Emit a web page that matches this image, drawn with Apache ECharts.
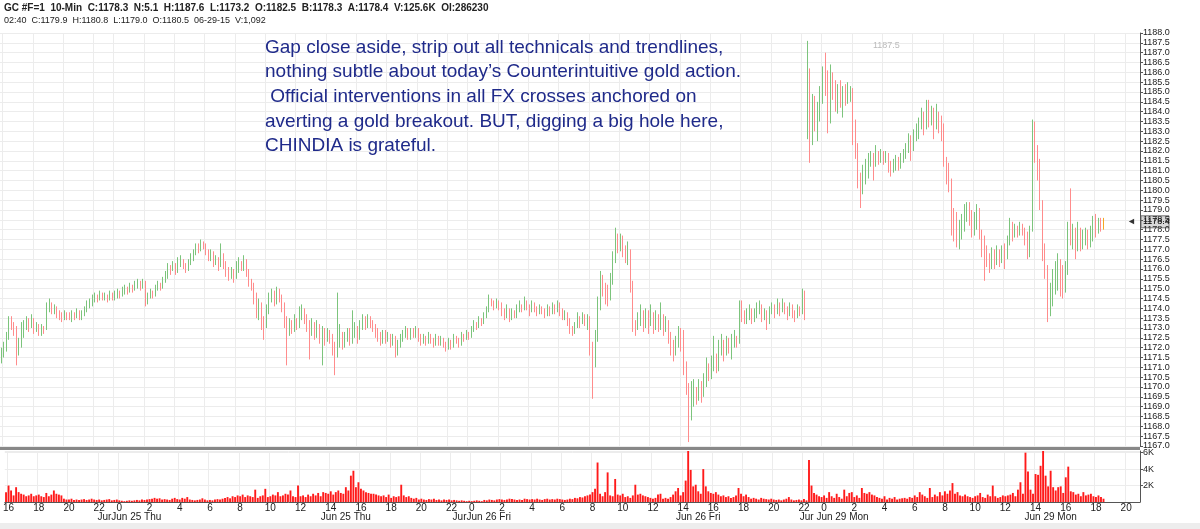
<!DOCTYPE html>
<html>
<head>
<meta charset="utf-8">
<script src="https://cdn.jsdelivr.net/npm/echarts@6/dist/echarts.min.js"></script>
<style>
html, body { margin: 0; padding: 0; background: #fff; }
#chart { width: 1200px; height: 529px; }
</style>
</head>
<body>
<div id="chart"></div>
<script>
// trading sessions: [day, first bar, last slot]  (10-min bars)
var sessions = [
    ["06-24", "15:50", "23:10"],
    ["06-25", "00:00", "23:10"],
    ["06-26", "00:00", "22:10"],
    ["06-28", "23:00", "23:50"],
    ["06-29", "00:00", "20:50"]
];

// bars as [open, close, low, high]
var jun24Bars = [
[1171.5,1171.7,1171.2,1172.0],[1171.7,1171.9,1171.5,1172.3],[1171.9,1172.5,1171.8,1172.8],[1172.5,1173.4,1172.4,1173.6],
[1173.4,1173.2,1172.9,1173.6],[1173.2,1173.0,1172.6,1173.3],[1173.0,1171.8,1171.1,1173.1],[1171.8,1172.2,1171.6,1172.5],
[1172.2,1172.6,1172.0,1173.3],[1172.6,1173.1,1172.5,1173.4],[1173.1,1173.3,1172.9,1173.6],[1173.3,1173.2,1172.8,1173.5],
[1173.2,1173.4,1173.0,1173.7],[1173.4,1173.0,1172.7,1173.5],[1173.0,1173.1,1172.8,1173.3],[1173.1,1172.8,1172.6,1173.2],
[1172.8,1173.0,1172.6,1173.2],[1173.0,1172.9,1172.7,1173.1],[1172.9,1174.0,1172.9,1174.3],[1174.0,1174.2,1173.8,1174.5],
[1174.2,1173.9,1173.7,1174.3],[1173.9,1174.0,1173.7,1174.2],[1174.0,1173.7,1173.5,1174.1],[1173.7,1173.6,1173.4,1173.9],
[1173.6,1173.5,1173.3,1173.8],[1173.5,1173.7,1173.4,1173.9],[1173.7,1173.6,1173.4,1173.8],[1173.6,1173.5,1173.4,1173.8],
[1173.5,1173.7,1173.3,1173.9],[1173.7,1173.6,1173.4,1173.8],[1173.6,1173.8,1173.5,1174.0],[1173.8,1173.6,1173.4,1173.9],
[1173.6,1173.7,1173.4,1173.9],[1173.7,1173.9,1173.6,1174.1],[1173.9,1174.2,1173.8,1174.4],[1174.2,1174.3,1174.0,1174.5],
[1174.3,1174.5,1174.1,1174.7],[1174.5,1174.6,1174.3,1174.8],[1174.6,1174.5,1174.3,1174.7],[1174.5,1174.7,1174.4,1174.9],
[1174.7,1174.6,1174.4,1174.8],[1174.6,1174.6,1174.4,1174.8],[1174.6,1174.5,1174.3,1174.7],[1174.5,1174.7,1174.4,1174.9],
[1174.7,1174.6,1174.4,1174.8]
];
var jun25Bars = [
[1174.6,1174.7,1174.4,1174.9],[1174.7,1174.8,1174.5,1175.0],[1174.8,1174.7,1174.5,1174.9],[1174.7,1174.9,1174.6,1175.1],
[1174.9,1175.0,1174.7,1175.2],[1175.0,1174.9,1174.7,1175.1],[1174.9,1175.1,1174.8,1175.3],[1175.1,1175.0,1174.8,1175.2],
[1175.0,1175.2,1174.9,1175.4],[1175.2,1175.3,1175.0,1175.5],[1175.3,1175.1,1174.9,1175.4],[1175.1,1175.3,1175.0,1175.5],
[1175.3,1174.4,1174.1,1175.4],[1174.4,1174.6,1174.2,1174.8],[1174.6,1174.8,1174.5,1175.0],[1174.8,1174.7,1174.5,1174.9],
[1174.7,1175.0,1174.6,1175.2],[1175.0,1175.2,1174.9,1175.4],[1175.2,1175.1,1174.9,1175.3],[1175.1,1175.4,1175.0,1175.6],
[1175.4,1175.6,1175.3,1175.9],[1175.6,1176.1,1175.5,1176.3],[1176.1,1176.0,1175.7,1176.2],[1176.0,1176.2,1175.9,1176.4],
[1176.2,1175.9,1175.7,1176.3],[1175.9,1176.3,1175.8,1176.6],[1176.3,1176.4,1176.1,1176.7],[1176.4,1176.2,1176.0,1176.5],
[1176.2,1176.0,1175.8,1176.3],[1176.0,1176.3,1175.9,1176.5],[1176.3,1176.5,1176.2,1176.8],[1176.5,1176.8,1176.4,1177.0],
[1176.8,1177.1,1176.7,1177.3],[1177.1,1177.0,1176.8,1177.3],[1177.0,1177.3,1176.9,1177.5],[1177.3,1177.2,1177.0,1177.4],
[1177.2,1176.9,1176.7,1177.3],[1176.9,1176.6,1176.4,1177.0],[1176.6,1176.8,1176.4,1177.0],[1176.8,1176.4,1176.1,1176.9],
[1176.4,1176.5,1176.2,1176.7],[1176.5,1176.2,1175.9,1176.6],[1176.2,1176.6,1176.1,1177.3],[1176.6,1176.3,1176.0,1176.8],
[1176.3,1176.0,1175.6,1176.4],[1176.0,1175.7,1175.4,1176.1],[1175.7,1175.9,1175.5,1176.1],[1175.9,1175.6,1175.3,1176.0],
[1175.6,1176.0,1175.5,1176.4],[1176.0,1176.3,1175.8,1176.6],[1176.3,1176.1,1175.9,1176.4],[1176.1,1176.4,1175.9,1176.7],
[1176.4,1175.9,1175.6,1176.5],[1175.9,1175.4,1175.1,1176.0],[1175.4,1175.2,1174.9,1175.5],[1175.2,1174.6,1174.2,1175.3],
[1174.6,1173.8,1173.5,1174.8],[1173.8,1174.2,1173.4,1174.5],[1174.2,1173.5,1172.9,1174.3],[1173.5,1173.2,1172.4,1173.6],
[1173.2,1173.9,1173.0,1174.2],[1173.9,1174.5,1173.7,1174.8],[1174.5,1174.8,1174.3,1175.0],[1174.8,1174.4,1174.1,1174.9],
[1174.4,1174.9,1174.2,1175.1],[1174.9,1174.6,1174.3,1175.0],[1174.6,1174.2,1173.8,1174.7],[1174.2,1173.5,1173.0,1174.3],
[1173.5,1173.1,1171.1,1173.6],[1173.1,1173.3,1172.6,1173.5],[1173.3,1173.0,1172.7,1173.4],[1173.0,1173.4,1172.8,1173.7],
[1173.4,1173.2,1172.9,1173.5],[1173.2,1173.6,1173.0,1174.1],[1173.6,1173.9,1173.4,1174.2],[1173.9,1173.5,1173.2,1174.0],
[1173.5,1173.3,1172.8,1173.7],[1173.3,1172.9,1171.4,1173.4],[1172.9,1173.1,1172.6,1173.5],[1173.1,1172.8,1172.4,1173.3],
[1172.8,1173.0,1172.5,1173.4],[1173.0,1172.6,1172.2,1173.2],[1172.6,1172.9,1171.1,1173.1],[1172.9,1172.5,1172.1,1173.0],
[1172.5,1172.8,1172.3,1173.0],[1172.8,1172.6,1172.2,1172.9],[1172.6,1172.2,1171.6,1172.7],[1172.2,1171.8,1170.6,1172.3],
[1171.8,1172.4,1171.5,1174.8],[1172.4,1172.6,1172.0,1173.2],[1172.6,1172.3,1171.9,1172.8],[1172.3,1172.5,1172.0,1172.8],
[1172.5,1172.8,1172.3,1173.0],[1172.8,1172.5,1172.1,1173.0],[1172.5,1172.7,1172.2,1173.9],[1172.7,1173.0,1172.5,1173.3],
[1173.0,1172.6,1172.2,1173.1],[1172.6,1173.1,1172.4,1173.4],[1173.1,1173.4,1172.9,1173.7],[1173.4,1173.2,1172.9,1173.6],
[1173.2,1173.5,1173.0,1173.7],[1173.5,1173.3,1173.0,1173.6],[1173.3,1173.1,1172.8,1173.4],[1173.1,1172.8,1172.5,1173.2],
[1172.8,1172.6,1172.3,1173.0],[1172.6,1172.4,1172.1,1172.8],[1172.4,1172.7,1172.2,1172.9],[1172.7,1172.5,1172.2,1172.9],
[1172.5,1172.6,1172.3,1172.8],[1172.6,1172.3,1172.0,1172.7],[1172.3,1172.5,1172.1,1172.7],[1172.5,1171.7,1171.5,1172.6],
[1171.7,1172.2,1171.6,1172.4],[1172.2,1172.5,1172.0,1172.7],[1172.5,1172.7,1172.3,1172.9],[1172.7,1172.9,1172.5,1173.1],
[1172.9,1172.6,1172.4,1173.0],[1172.6,1172.8,1172.4,1173.0],[1172.8,1172.7,1172.5,1173.0],[1172.7,1172.9,1172.5,1173.1],
[1172.9,1172.6,1172.3,1173.0],[1172.6,1172.4,1172.1,1172.7],[1172.4,1172.5,1172.2,1172.7],[1172.5,1172.3,1172.1,1172.6],
[1172.3,1172.6,1172.2,1172.8],[1172.6,1172.4,1172.2,1172.7],[1172.4,1172.2,1172.0,1172.5],[1172.2,1172.5,1172.1,1172.7],
[1172.5,1172.3,1172.1,1172.6],[1172.3,1172.4,1172.1,1172.6],[1172.4,1172.2,1172.0,1172.5],[1172.2,1172.0,1171.8,1172.3],
[1172.0,1172.3,1171.9,1172.5],[1172.3,1172.1,1171.9,1172.4],[1172.1,1172.5,1172.0,1172.7],[1172.5,1172.4,1172.2,1172.6],
[1172.4,1172.2,1172.0,1172.5],[1172.2,1172.6,1172.1,1172.8],[1172.6,1172.5,1172.3,1172.7],[1172.5,1172.7,1172.4,1172.9]
];
var jun26Bars = [
[1172.7,1172.6,1172.4,1172.8],[1172.6,1172.9,1172.5,1173.1],[1172.9,1173.2,1172.8,1173.4],[1173.2,1173.1,1172.9,1173.3],
[1173.1,1173.4,1173.0,1173.6],[1173.4,1173.3,1173.1,1173.5],[1173.3,1173.6,1173.2,1173.8],[1173.6,1173.9,1173.5,1174.1],
[1173.9,1174.4,1173.8,1174.7],[1174.4,1174.3,1174.1,1174.5],[1174.3,1174.1,1173.9,1174.4],[1174.1,1174.3,1174.0,1174.5],
[1174.3,1174.2,1173.9,1174.4],[1174.2,1173.9,1173.6,1174.3],[1173.9,1173.7,1173.4,1174.0],[1173.7,1173.9,1173.5,1174.2],
[1173.9,1173.6,1173.3,1174.0],[1173.6,1173.8,1173.4,1174.0],[1173.8,1173.7,1173.5,1173.9],[1173.7,1173.9,1173.5,1174.2],
[1173.9,1174.1,1173.8,1174.4],[1174.1,1174.0,1173.8,1174.2],[1174.0,1174.3,1173.9,1174.6],[1174.3,1174.1,1173.9,1174.4],
[1174.1,1173.9,1173.6,1174.2],[1173.9,1174.2,1173.8,1174.4],[1174.2,1174.0,1173.8,1174.3],[1174.0,1173.8,1173.6,1174.1],
[1173.8,1174.0,1173.7,1174.2],[1174.0,1173.9,1173.7,1174.1],[1173.9,1173.7,1173.5,1174.0],[1173.7,1174.0,1173.6,1174.2],
[1174.0,1173.8,1173.6,1174.1],[1173.8,1174.1,1173.7,1174.3],[1174.1,1173.9,1173.7,1174.2],[1173.9,1174.2,1173.8,1174.4],
[1174.2,1173.9,1173.6,1174.3],[1173.9,1173.6,1173.4,1174.0],[1173.6,1173.7,1173.4,1173.9],[1173.7,1173.4,1173.1,1173.8],
[1173.4,1173.0,1172.7,1173.5],[1173.0,1172.8,1172.6,1173.1],[1172.8,1173.1,1172.7,1173.3],[1173.1,1173.5,1173.0,1173.8],
[1173.5,1173.3,1173.0,1173.6],[1173.3,1173.6,1173.2,1173.8],[1173.6,1173.4,1173.1,1173.7],[1173.4,1173.5,1172.9,1173.7],
[1173.5,1172.0,1171.6,1173.6],[1172.0,1171.2,1169.4,1172.3],[1171.2,1172.5,1171.0,1172.9],[1172.5,1174.0,1172.3,1174.6],
[1174.0,1175.5,1173.9,1175.9],[1175.5,1175.0,1174.6,1175.7],[1175.0,1174.9,1174.2,1175.3],[1174.9,1174.6,1174.1,1175.2],
[1174.6,1175.4,1174.4,1175.8],[1175.4,1176.5,1175.2,1176.9],[1176.5,1177.3,1176.3,1178.1],[1177.3,1177.2,1176.8,1177.8],
[1177.2,1177.5,1176.9,1177.8],[1177.5,1177.0,1176.6,1177.7],[1177.0,1176.6,1176.3,1177.2],[1176.6,1176.9,1176.2,1177.4],
[1176.9,1175.3,1174.8,1177.0],[1175.3,1173.1,1172.8,1175.4],[1173.1,1173.0,1172.6,1173.4],[1173.0,1173.4,1172.9,1173.8],
[1173.4,1173.6,1173.1,1174.2],[1173.6,1173.2,1172.8,1173.9],[1173.2,1173.5,1173.0,1174.0],[1173.5,1173.3,1172.7,1173.9],
[1173.3,1173.6,1173.1,1174.2],[1173.6,1173.1,1172.7,1173.8],[1173.1,1173.4,1172.9,1173.9],[1173.4,1173.2,1172.8,1173.7],
[1173.2,1173.5,1172.9,1174.3],[1173.5,1173.0,1172.6,1173.7],[1173.0,1173.3,1172.8,1173.6],[1173.3,1172.6,1172.2,1173.4],
[1172.6,1172.2,1171.6,1172.8],[1172.2,1171.9,1171.3,1172.4],[1171.9,1172.1,1171.6,1172.6],[1172.1,1172.9,1172.0,1173.1],
[1172.9,1172.8,1171.8,1173.0],[1172.8,1171.2,1170.6,1172.9],[1171.2,1170.0,1169.6,1171.3],[1170.0,1168.7,1167.2,1170.2],
[1168.7,1169.4,1168.3,1170.3],[1169.4,1169.7,1169.0,1170.4],[1169.7,1169.6,1169.1,1170.0],[1169.6,1170.0,1169.3,1170.4],
[1170.0,1169.8,1169.2,1170.3],[1169.8,1170.2,1169.5,1170.7],[1170.2,1170.9,1170.0,1171.5],[1170.9,1170.6,1170.3,1171.2],
[1170.6,1171.1,1170.4,1171.6],[1171.1,1171.4,1170.8,1172.6],[1171.4,1170.9,1170.7,1171.7],[1170.9,1172.0,1170.8,1172.4],
[1172.0,1172.2,1171.6,1172.7],[1172.2,1171.8,1171.3,1172.4],[1171.8,1172.3,1171.6,1172.6],[1172.3,1172.0,1171.7,1172.5],
[1172.0,1172.2,1171.4,1172.7],[1172.2,1172.5,1172.0,1172.9],[1172.5,1172.3,1172.0,1172.6],[1172.3,1174.0,1172.2,1174.4],
[1174.0,1173.7,1173.3,1174.4],[1173.7,1173.5,1173.2,1173.9],[1173.5,1173.6,1173.2,1174.0],[1173.6,1173.9,1173.4,1174.2],
[1173.9,1173.5,1173.2,1174.0],[1173.5,1173.7,1173.3,1174.0],[1173.7,1173.9,1173.5,1174.3],[1173.9,1174.1,1173.7,1174.4],
[1174.1,1173.6,1173.3,1174.2],[1173.6,1173.8,1173.4,1174.0],[1173.8,1173.3,1172.9,1173.9],[1173.3,1173.9,1173.2,1174.1],
[1173.9,1174.0,1173.7,1174.3],[1174.0,1173.8,1173.5,1174.2],[1173.8,1174.1,1173.7,1174.5],[1174.1,1173.9,1173.6,1174.3],
[1173.9,1174.2,1173.8,1174.5],[1174.2,1174.0,1173.7,1174.3],[1174.0,1173.7,1173.4,1174.1],[1173.7,1174.1,1173.6,1174.3],
[1174.1,1173.8,1173.5,1174.2],[1173.8,1173.6,1173.3,1173.9],[1173.6,1174.0,1173.5,1174.2],[1174.0,1173.8,1173.6,1174.1],
[1173.8,1174.8,1173.7,1175.0],[1174.8,1173.8,1173.4,1174.9]
];
var jun29Bars = [
[1182.6,1186.0,1182.6,1187.6],[1186.0,1182.5,1181.4,1186.2],[1182.5,1184.4,1182.3,1184.9],[1184.4,1183.7,1183.0,1184.8],
[1183.7,1184.3,1182.5,1184.5],[1184.3,1184.6,1183.5,1185.3],[1184.6,1186.0,1184.4,1186.3],[1186.0,1185.1,1184.8,1187.0],
[1185.1,1183.5,1182.9,1186.1],[1183.5,1185.8,1183.4,1186.4],[1185.8,1185.1,1184.6,1186.0],[1185.1,1184.9,1184.0,1185.6],
[1184.9,1185.1,1183.9,1185.4],[1185.1,1184.7,1184.2,1185.6],[1184.7,1185.0,1183.7,1185.3],[1185.0,1184.8,1184.3,1185.4],
[1184.8,1184.9,1184.4,1185.5],[1184.9,1185.0,1184.5,1185.3],[1185.0,1183.4,1182.3,1185.2],[1183.4,1182.2,1181.6,1183.6],
[1182.2,1180.7,1180.1,1182.4],[1180.7,1180.0,1179.1,1180.9],[1180.0,1180.5,1179.8,1181.3],[1180.5,1181.0,1180.3,1181.6],
[1181.0,1181.4,1180.6,1181.9],[1181.4,1181.7,1181.2,1182.0],[1181.7,1181.5,1180.5,1181.9],[1181.5,1181.8,1181.2,1182.3],
[1181.8,1181.6,1181.3,1182.0],[1181.6,1181.9,1181.4,1182.1],[1181.9,1181.7,1181.3,1182.0],[1181.7,1181.8,1181.4,1182.0],
[1181.8,1181.2,1180.9,1181.9],[1181.2,1181.0,1180.7,1181.5],[1181.0,1181.3,1180.9,1181.6],[1181.3,1181.5,1181.0,1181.8],
[1181.5,1181.3,1181.0,1181.7],[1181.3,1181.6,1181.1,1181.9],[1181.6,1181.8,1181.4,1182.1],[1181.8,1182.0,1181.6,1182.4],
[1182.0,1182.6,1181.9,1182.9],[1182.6,1182.2,1181.5,1182.8],[1182.2,1182.7,1182.0,1183.1],[1182.7,1183.0,1182.5,1183.4],
[1183.0,1183.4,1182.6,1183.7],[1183.4,1183.7,1183.1,1184.2],[1183.7,1183.3,1182.8,1184.0],[1183.3,1183.8,1183.1,1184.6],
[1183.8,1183.6,1183.2,1184.6],[1183.6,1184.0,1183.3,1184.3],[1184.0,1183.4,1182.6,1184.2],[1183.4,1183.8,1183.1,1184.4],
[1183.8,1183.6,1182.9,1184.0],[1183.6,1183.2,1182.5,1183.8],[1183.2,1181.5,1181.2,1183.4],[1181.5,1180.7,1180.3,1181.7],
[1180.7,1180.4,1179.9,1181.4],[1180.4,1178.9,1177.7,1180.6],[1178.9,1178.6,1177.4,1179.1],[1178.6,1177.6,1177.1,1178.9],
[1177.6,1177.9,1177.0,1178.5],[1177.9,1178.3,1177.5,1178.8],[1178.3,1178.6,1177.9,1179.3],[1178.6,1179.2,1178.4,1179.4],
[1179.2,1178.8,1178.2,1179.4],[1178.8,1178.0,1177.6,1179.0],[1178.0,1178.3,1177.7,1178.9],[1178.3,1179.0,1178.0,1179.3],
[1179.0,1177.9,1177.5,1179.1],[1177.9,1177.5,1176.6,1178.0],[1177.5,1177.0,1175.4,1177.7],[1177.0,1176.5,1176.1,1177.2],
[1176.5,1176.3,1175.8,1176.8],[1176.3,1176.8,1176.0,1177.1],[1176.8,1176.5,1176.0,1177.0],[1176.5,1176.9,1176.2,1177.2],
[1176.9,1176.6,1176.1,1177.0],[1176.6,1177.0,1176.3,1177.2],[1177.0,1176.7,1176.0,1177.3],[1176.7,1177.4,1176.5,1177.7],
[1177.4,1178.1,1177.2,1178.6],[1178.1,1177.8,1177.4,1178.4],[1177.8,1178.0,1177.6,1178.3],[1178.0,1177.9,1177.6,1178.2],
[1177.9,1178.2,1177.7,1178.4],[1178.2,1178.0,1177.7,1178.3],[1178.0,1177.6,1177.2,1178.1],[1177.6,1176.8,1176.5,1177.9],
[1176.8,1178.1,1176.6,1178.2],[1178.1,1182.5,1177.9,1183.6],[1182.5,1182.0,1181.4,1183.5],[1182.0,1180.9,1180.5,1182.3],
[1180.9,1179.3,1179.0,1181.6],[1179.3,1177.1,1176.4,1179.5],[1177.1,1176.0,1175.5,1177.3],[1176.0,1173.9,1173.3,1176.2],
[1173.9,1174.4,1173.6,1175.3],[1174.4,1175.3,1174.1,1176.0],[1175.3,1175.6,1174.7,1176.4],[1175.6,1176.0,1174.9,1176.8],
[1176.0,1175.4,1174.6,1176.5],[1175.4,1174.9,1174.5,1176.2],[1174.9,1175.8,1174.8,1176.4],[1175.8,1178.0,1175.7,1178.4],
[1178.0,1177.5,1177.2,1180.1],[1177.5,1177.6,1177.0,1178.3],[1177.6,1177.2,1176.5,1178.1],[1177.2,1177.9,1176.9,1178.4],
[1177.9,1177.3,1176.9,1178.1],[1177.3,1177.6,1177.0,1178.0],[1177.6,1177.8,1177.2,1178.1],[1177.8,1177.4,1177.0,1178.0],
[1177.4,1177.6,1177.1,1178.2],[1177.6,1178.2,1177.4,1178.7],[1178.2,1178.0,1177.6,1178.8],[1178.0,1178.4,1177.8,1178.6],
[1178.4,1178.2,1177.9,1178.6],[1178.2,1178.4,1178.0,1178.6]
];

var jun24Vol = [1200,2000,1400,800,1800,1200,1000,900,700,800,1000,700,800,900,700,600,1100,700,900,1400,1000,900,800,400,300,300,400,250,300,250,300,350,250,300,400,300,250,300,200,250,300,350,200,250,300];
var jun25Vol = [200,150,100,150,200,150,200,250,200,300,250,300,350,400,500,400,450,300,350,300,250,400,500,350,
    300,500,400,600,300,250,200,250,300,450,300,200,250,200,300,350,300,400,500,600,450,700,600,800,
    700,900,600,800,700,600,1500,500,700,800,1600,600,700,900,800,1200,700,800,1000,900,1400,700,600,2000,
    700,800,600,900,700,1000,800,1100,700,1200,1100,1000,1300,900,1200,1400,1100,1000,1800,1400,3200,3800,1800,2400,
    1600,1400,1200,1100,1000,1000,900,800,700,800,600,900,500,700,600,700,2100,800,600,700,500,400,500,300,
    400,300,250,350,300,400,250,300,200,300,250,300,200,250,200,150,200,150,100,150];
var jun26Vol = [100,150,200,150,100,250,200,300,250,200,300,350,300,250,300,400,350,300,250,300,250,400,350,300,
    350,300,400,300,250,350,400,300,350,300,400,350,300,250,300,400,350,500,450,600,550,700,800,900,
    1200,1600,4800,1000,700,1200,3600,800,700,2800,900,800,1000,600,700,500,800,2100,900,1000,800,700,600,500,
    400,500,900,1000,400,500,400,600,900,1300,1700,800,1200,2600,6200,3900,1900,2100,1300,1000,4000,1900,1300,1100,
    1000,1200,900,700,800,600,700,500,600,800,1700,1000,700,900,600,400,500,400,300,500,400,350,300,400,
    300,250,300,200,300,400,600,300,200,250,300,200,350,200];
var jun29Vol = [5100,2000,1100,900,700,600,
    800,500,1200,700,500,1000,600,400,1500,700,1100,1200,600,800,500,1700,1100,1000,1200,900,800,600,500,400,
    700,300,500,400,600,300,400,450,500,400,600,500,800,600,1200,900,700,500,1700,600,900,700,1200,800,
    1300,1000,1400,2300,1000,1200,800,700,900,700,600,500,700,800,1100,600,500,900,700,2000,700,500,600,800,
    700,800,900,1100,700,1500,2400,1000,6000,3700,1500,1000,3400,3300,4400,6200,3200,1900,3800,1800,1400,1800,1900,1100,
    3000,4300,1300,1200,900,1000,700,1200,800,900,1000,700,600,800,600,400];

var priceTicks = { min: 1167, max: 1188, step: 0.5 };
var volTicks = { min: 0, max: 6200, step: 2000 };
var lastPrice = 1178.4;

var noteLines = [
    "Gap close aside, strip out all technicals and trendlines,",
    "nothing subtle about today\u2019s Counterintuitive gold action.",
    " Official interventions in all FX crosses anchored on",
    "averting a gold breakout. BUT, digging a big hole here,",
    "CHINDIA is grateful."
];
var dateLabels = [
    ["06-25 00:40", "JurJun 25 Thu"], ["06-25 15:00", "Jun 25 Thu"],
    ["06-26 00:40", "JurJun 26 Fri"], ["06-26 15:00", "Jun 26 Fri"],
    ["06-29 00:40", "Jur Jun 29 Mon"], ["06-29 15:00", "Jun 29 Mon"]
];

function toMin(s) { return +s.slice(0, 2) * 60 + +s.slice(3, 5); }
function pad(n) { return (n < 10 ? "0" : "") + n; }

var categories = [];
sessions.forEach(function(s) {
    for (var m = toMin(s[1]); m <= toMin(s[2]); m += 10) {
        categories.push(s[0] + " " + pad(Math.floor(m / 60)) + ":" + pad(m % 60));
    }
});

var bars = jun24Bars.concat(jun25Bars, jun26Bars, jun29Bars);
var volume = jun24Vol.concat(jun25Vol, jun26Vol, jun29Vol);
var candleData = bars.map(function(b, i) {
    if (i == bars.length - 1) {
        return { value: b, itemStyle: { color: "#f5a623", color0: "#f5a623", borderColor: "#f5a623", borderColor0: "#f5a623" } };
    }
    return b;
});

function evenHour(idx, val) {
    var t = (val || categories[idx]).slice(6);
    return t.slice(3) == "00" && (+t.slice(0, 2)) % 2 == 0;
}

var chart = echarts.init(document.getElementById("chart"));
var font = "Liberation Sans, Arial, sans-serif";

var option = {
    animation: false,
    backgroundColor: "#fff",
    grid: [
        { left: 0, right: 60, top: 33, height: 413 },
        { left: 0, right: 60, top: 451, height: 51 }
    ],
    xAxis: [{
        type: "category", gridIndex: 0, data: categories, boundaryGap: true,
        axisLine: { show: false }, axisTick: { show: false }, axisLabel: { show: false },
        splitLine: { show: true, interval: evenHour, lineStyle: { color: "#ececec" } }
    }, {
        type: "category", gridIndex: 1, data: categories, boundaryGap: true,
        axisLine: { lineStyle: { color: "#555" } },
        axisTick: { interval: evenHour, length: 2, lineStyle: { color: "#555" } },
        axisLabel: {
            interval: evenHour, fontSize: 10, color: "#222", fontFamily: font, margin: 1,
            formatter: function(v) { return String(+v.slice(6, 8)); }
        },
        splitLine: { show: true, interval: evenHour, lineStyle: { color: "#ececec" } }
    }],
    yAxis: [{
        type: "value", gridIndex: 0, position: "right", scale: true,
        min: priceTicks.min, max: priceTicks.max, interval: priceTicks.step,
        axisLine: { show: true, lineStyle: { color: "#555" } },
        axisTick: { show: true, length: 3 },
        axisLabel: { fontSize: 9, color: "#222", fontFamily: font, margin: 3,
            formatter: function(v) { return v.toFixed(1); } },
        splitLine: { lineStyle: { color: "#ececec" } }
    }, {
        type: "value", gridIndex: 1, position: "right",
        min: volTicks.min, max: volTicks.max, interval: volTicks.step,
        axisLine: { show: true, lineStyle: { color: "#555" } },
        axisTick: { show: true, length: 3 },
        axisLabel: { fontSize: 9, color: "#222", fontFamily: font, margin: 3, showMinLabel: false, showMaxLabel: false,
            formatter: function(v) { return v / 1000 + "K"; } },
        splitLine: { lineStyle: { color: "#ececec" } }
    }],
    series: [{
        type: "candlestick", xAxisIndex: 0, yAxisIndex: 0,
        data: candleData, barMaxWidth: 1.6,
        itemStyle: { color: "#4aa64a", color0: "#ff5a5a", borderColor: "#7cc47c", borderColor0: "#ff8c8c", borderWidth: 1 }
    }, {
        type: "bar", xAxisIndex: 1, yAxisIndex: 1,
        data: volume, barWidth: "75%",
        itemStyle: { color: "#ff1a1a" }
    }],
    graphic: [
        { type: "text", left: 4, top: 3, style: { text: "GC #F=1  10-Min  C:1178.3  N:5.1  H:1187.6  L:1173.2  O:1182.5  B:1178.3  A:1178.4  V:125.6K  OI:286230",
            font: "bold 10px " + font, fill: "#222" } },
        { type: "text", left: 4, top: 16, style: { text: "02:40  C:1179.9  H:1180.8  L:1179.0  O:1180.5  06-29-15  V:1,092",
            font: "9px " + font, fill: "#222" } },
        { type: "rect", shape: { x: 0, y: 447, width: 1140, height: 3 }, style: { fill: "#888" } },
        { type: "rect", shape: { x: 0, y: 523, width: 1200, height: 6 }, style: { fill: "#ededed" } },
        { type: "text", left: 873, top: 41, style: { text: "1187.5", font: "9px " + font, fill: "#bbb" } }
    ].concat(noteLines.map(function(t, i) {
        return { type: "text", left: 265, top: 38 + i * 24.6, style: { text: t, font: "19px " + font, fill: "#1f2a8a" } };
    }))
};
chart.setOption(option);

// date captions and last-price tag need pixel positions from the axes
var extra = option.graphic.slice();
dateLabels.forEach(function(d) {
    var x = chart.convertToPixel({ xAxisIndex: 1 }, d[0]);
    extra.push({ type: "text", x: x, y: 512, style: { text: d[1], font: "10px " + font, fill: "#222", align: "center" } });
});
var py = chart.convertToPixel({ yAxisIndex: 0 }, lastPrice);
extra.push({ type: "text", x: 1127, y: py - 5, style: { text: "\u25c4", font: "9px " + font, fill: "#333" } });
extra.push({ type: "rect", shape: { x: 1141, y: py - 6, width: 28, height: 12 }, style: { fill: "#d9d9d9", stroke: "#777" } });
extra.push({ type: "text", x: 1143, y: py - 5, style: { text: lastPrice.toFixed(1), font: "9px " + font, fill: "#000" } });
chart.setOption({ graphic: extra }, { replaceMerge: ["graphic"] });
</script>
</body>
</html>
